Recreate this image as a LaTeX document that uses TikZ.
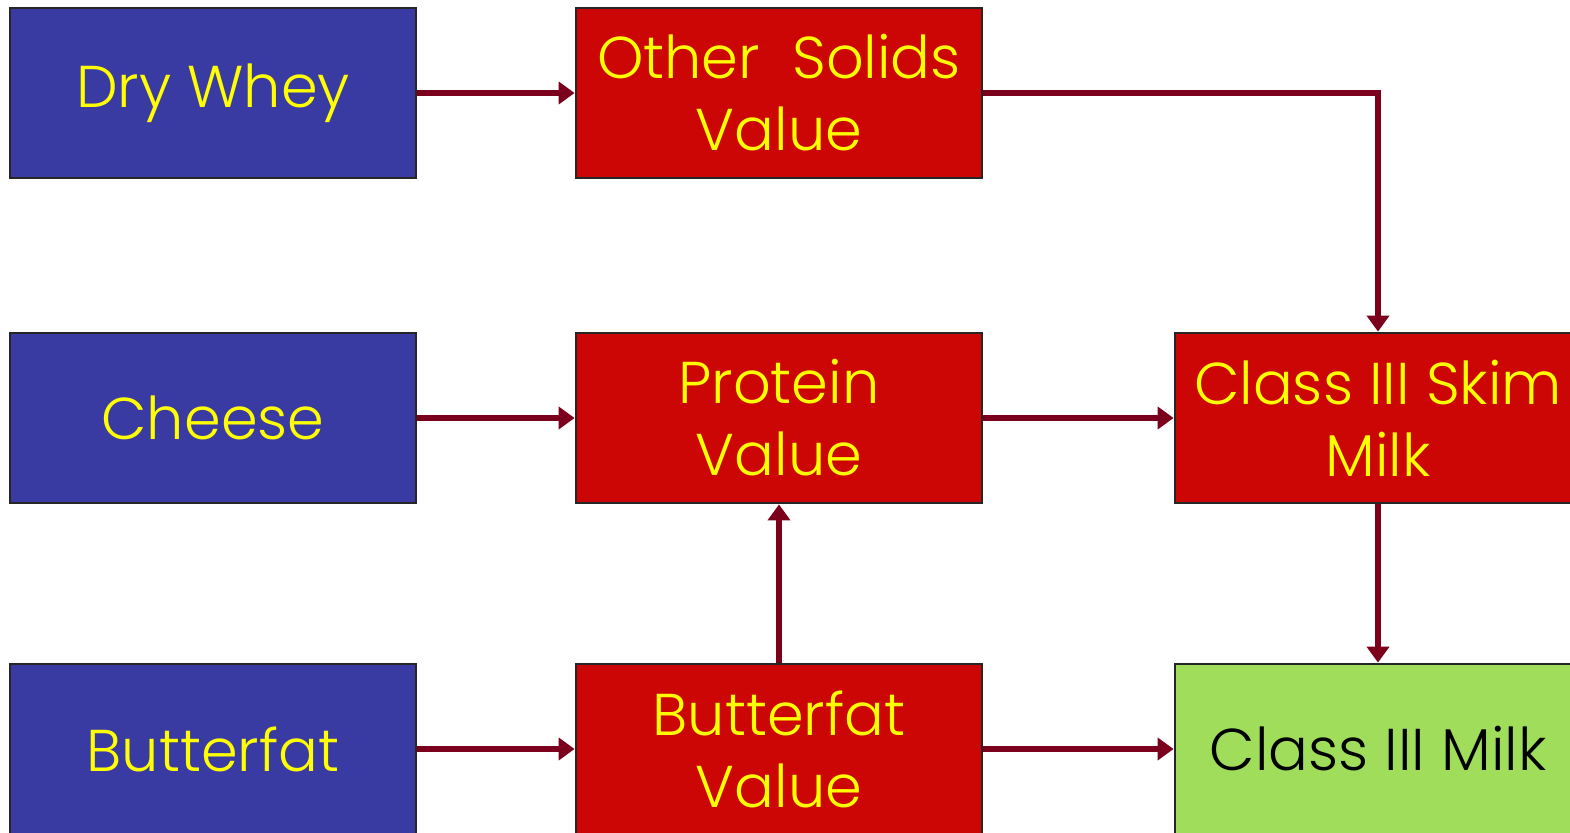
\documentclass[tikz,border=0pt]{standalone}
\usepackage{fontspec}
\setmainfont{Poppins Light}
\usetikzlibrary{arrows.meta}
\definecolor{srcblue}{HTML}{3A3BA2}
\definecolor{valred}{HTML}{CC0605}
\definecolor{milkgreen}{HTML}{A0DD5A}
\definecolor{flow}{HTML}{7A001C}
\definecolor{txtyellow}{HTML}{FFFF00}
\tikzset{
  box/.style={draw=black!85, line width=1.4pt, minimum width=203pt, minimum height=85pt,
    inner sep=0pt, align=center, font=\fontsize{29.5}{36}\selectfont},
  srcbox/.style={box, fill=srcblue, text=txtyellow},
  valbox/.style={box, fill=valred, text=txtyellow},
  milkbox/.style={box, fill=milkgreen, text=black},
  flowline/.style={draw=flow, line width=2.8pt, -{Triangle[length=8pt,width=11pt]}}
}
\begin{document}
\begin{tikzpicture}[x=0.5pt,y=-0.5pt]
\useasboundingbox (0,0) rectangle (1570,832);
\clip (0,0) rectangle (1570,832);
\fill[white] (0,0) rectangle (1570,832);
% source commodities
\node[srcbox] (whey)   at (213,93)  {\raisebox{-3pt}{Dry Whey}};
\node[srcbox] (cheese) at (213,418) {\raisebox{-2pt}{Cheese}};
\node[srcbox] (bfat)   at (213,749) {Butterfat};
% component values
\node[valbox] (other)   at (779,93)  {Other\ \ Solids\\Value};
\node[valbox] (protein) at (779,418) {Protein\\Value};
\node[valbox] (bfatval) at (779,749) {Butterfat\\Value};
% class prices
\node[valbox]  (skim) at (1378,418) {Class III Skim\\Milk};
\node[milkbox] (milk) at (1378,749) {Class III Milk};
% flows
\draw[flowline] (whey) -- (other);
\draw[flowline] (cheese) -- (protein);
\draw[flowline] (bfat) -- (bfatval);
\draw[flowline] (other.east) -| (skim.north);
\draw[flowline] (protein) -- (skim);
\draw[flowline] (bfatval) -- (protein);
\draw[flowline] (bfatval.east) -- (milk.west);
\draw[flowline] (skim) -- (milk);
\end{tikzpicture}
\end{document}
